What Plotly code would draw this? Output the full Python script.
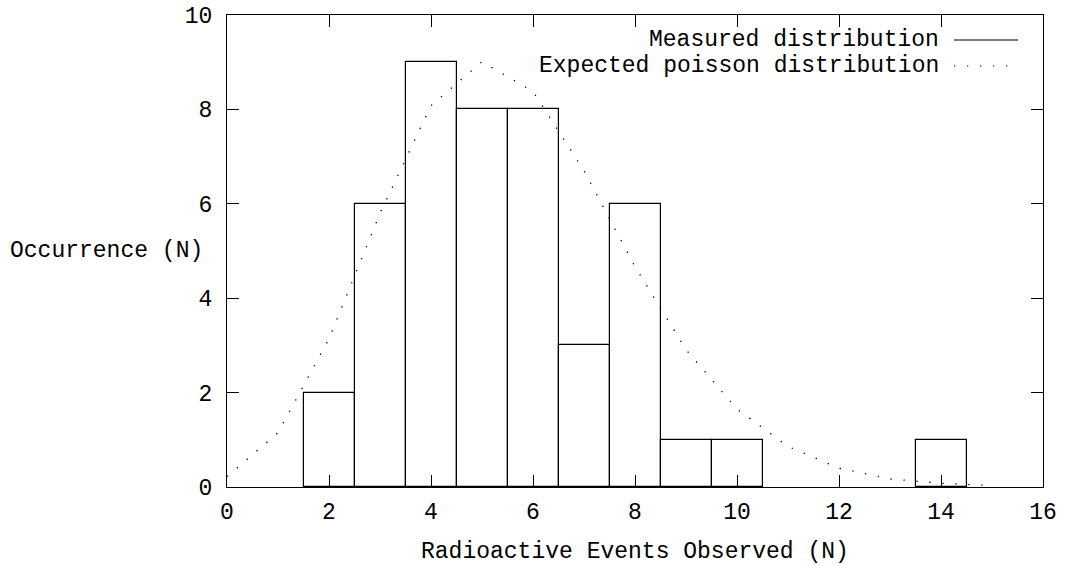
import plotly.graph_objects as go

# Measured histogram (events observed -> occurrences)
events = [2, 3, 4, 5, 6, 7, 8, 9, 10, 14]
occurrences = [2, 6, 9, 8, 8, 3, 6, 1, 1, 1]

# Expected poisson distribution (integer points)
poisson_x = [0, 1, 2, 3, 4, 5, 6, 7, 8, 9, 10, 11, 12, 13, 14, 15]
poisson_y = [0.22, 1.15, 3.14, 5.80, 8.08, 9.01, 8.38, 6.70, 4.67, 2.91,
             1.65, 0.86, 0.40, 0.17, 0.08, 0.03]

x_ticks = [0, 2, 4, 6, 8, 10, 12, 14, 16]
y_ticks = [0, 2, 4, 6, 8, 10]

FONT = "Liberation Mono"
FS = 23
DOT = "1.3px 11.7px"

fig = go.Figure()
fig.add_trace(go.Bar(
    x=events, y=occurrences, width=1,
    marker=dict(color="white", line=dict(color="black", width=1.2)),
    name="Measured distribution", showlegend=False,
))
fig.add_trace(go.Scatter(
    x=poisson_x, y=poisson_y, mode="lines",
    line=dict(color="black", width=1.3, dash=DOT),
    name="Expected poisson distribution", showlegend=False,
))

axis_common = dict(
    showgrid=False, zeroline=False, showline=True, linecolor="black",
    linewidth=1.3, mirror="allticks", ticks="inside", ticklen=12,
    tickcolor="black", tickwidth=1, automargin=False,
    tickfont=dict(family=FONT, size=FS, color="black"),
)
fig.update_xaxes(range=[0, 16], tickvals=x_ticks, ticktext=[str(v) for v in x_ticks],
                 ticklabelstandoff=3, **axis_common)
fig.update_yaxes(range=[0, 10], tickvals=y_ticks, ticktext=[str(v) for v in y_ticks],
                 ticklabelstandoff=9, **axis_common)

# Legend (gnuplot style: text right-aligned, sample on the right)
legend_rows = [("Measured distribution", "solid", 40), ("Expected poisson distribution", DOT, 66)]
for label, dash, ypix in legend_rows:
    yp = 1 - (ypix - 15) / 472
    fig.add_annotation(x=(940 - 227) / 816, y=yp, xref="paper", yref="paper",
                       text=label, showarrow=False, xanchor="right", yanchor="middle",
                       borderpad=0,
                       font=dict(family=FONT, size=FS, color="black"))
    fig.add_shape(type="line", xref="paper", yref="paper",
                  x0=(954 - 227) / 816, x1=(1018 - 227) / 816, y0=yp, y1=yp,
                  line=dict(color="black", width=1.2, dash=dash))

fig.add_annotation(x=(8 - 227) / 816, y=0.5, xref="paper", yref="paper", text="Occurrence (N)",
                   showarrow=False, xanchor="left", yanchor="middle",
                   font=dict(family=FONT, size=FS, color="black"))
fig.add_annotation(x=0.5, y=1 - (552 - 15) / 472, xref="paper", yref="paper",
                   text="Radioactive Events Observed (N)", showarrow=False,
                   xanchor="center", yanchor="middle",
                   font=dict(family=FONT, size=FS, color="black"))

fig.update_layout(
    width=1068, height=566,
    margin=dict(l=227, r=25, t=15, b=79, autoexpand=False),
    plot_bgcolor="white", paper_bgcolor="white",
    bargap=0, showlegend=False,
)
fig.write_html("out.html", config={"displayModeBar": False},
               post_script="document.body.style.margin='0';")
